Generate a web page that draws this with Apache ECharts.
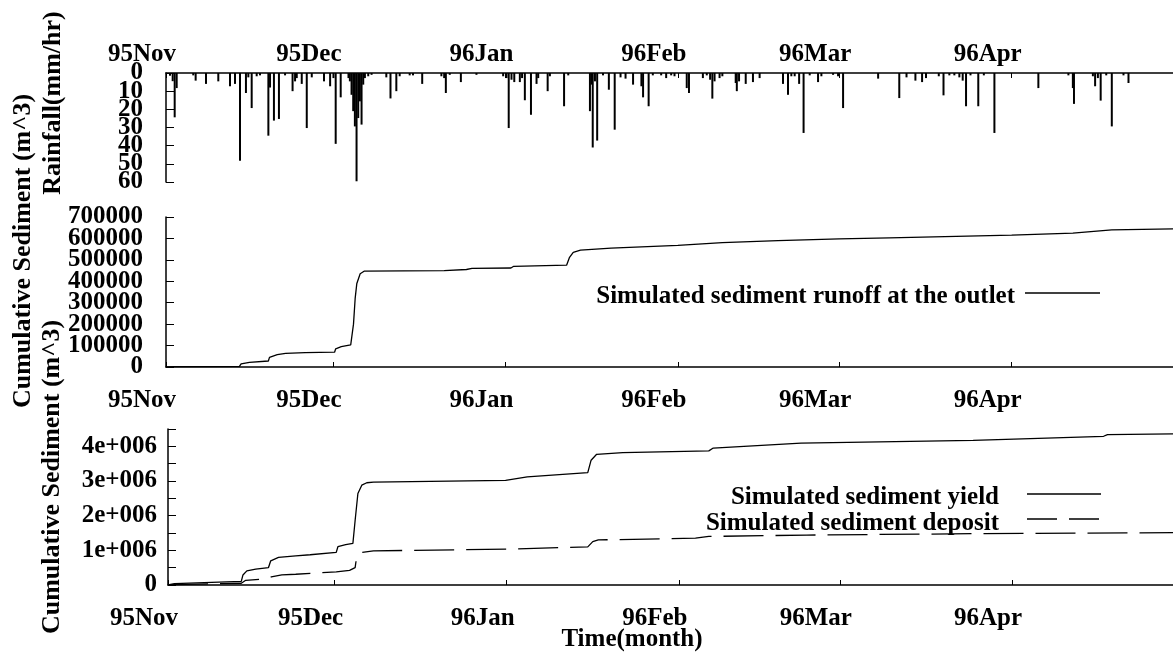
<!DOCTYPE html>
<html><head><meta charset="utf-8">
<script src="https://cdn.jsdelivr.net/npm/echarts@6/dist/echarts.min.js"></script>
<style>html,body{margin:0;padding:0;background:#fff}#c{width:1173px;height:652px}</style>
</head><body><div id="c"></div>
<script>
// x values are days since 1995-11-01
const monthDays = [0, 30, 61, 92, 121, 152];
const monthLabels = ['95Nov', '95Dec', '96Jan', '96Feb', '96Mar', '96Apr'];
const rainTicksA = [0, 20, 40, 60];
const rainTicksB = [10, 30, 50];
const outletTicksA = [0, 200000, 400000, 600000];
const outletTicksB = [100000, 300000, 500000, 700000];

const rainDays = [0.72,1.2,1.56,1.92,4.9,5.33,7.19,9.4,11.5,12.4,13.3,14.37,14.8,15.4,16.3,16.9,18.4,18.7,19.4,20.3,21.4,22.75,23.2,23.5,24.4,25.3,26.2,28.4,29.5,30.1,30.5,31.4,32.8,33.05,33.35,33.65,33.95,34.25,34.55,34.85,35.15,35.45,35.75,36.35,36.95,39.6,40.35,41.4,42.0,43.8,44.4,46.05,49.5,50.0,50.3,51.0,53.0,55.8,60.6,61.2,61.6,62.1,62.6,63.6,64.0,64.5,65.6,66.6,66.9,68.6,69.0,71.55,72.3,76.2,76.5,76.7,77.1,77.5,78.55,79.6,80.65,81.7,82.6,83.95,85.45,85.75,86.75,87.5,89.0,89.9,90.8,91.4,93.6,94.0,96.5,97.2,97.8,98.2,98.6,99.5,100.0,102.4,102.6,103.0,104.2,105.5,106.7,110.9,111.8,112.4,113.0,113.8,114.6,115.7,117.2,117.8,119.9,120.8,121.7,128.0,131.8,133.1,134.7,135.9,136.6,138.9,139.75,140.8,141.7,142.6,143.2,143.8,144.6,146.0,147.0,148.9,156.8,162.2,163.0,163.2,166.6,167.0,167.5,168.0,169.0,170.0,172.1,173.0];
const rainValues = [1.5,4.5,24.4,8.3,1.3,4.2,6,4.6,7.3,6,48.3,11,2.4,19.3,1.8,1.3,34.5,8,26.2,25.3,1.3,10,4.6,2.8,6,30.3,2.4,4.6,7.3,2.8,39,13.4,2.8,4.6,12,21,29.4,59.6,24.8,15.6,28.4,6.4,2.8,1.8,1,2.4,14,10,1.8,1.3,1.3,6,1.8,2.8,11,1,5,1,1.8,2.8,30.3,3.7,5,5,2.8,15,23,6,2.8,10,1.8,18.3,1.3,21,6.4,41,4.6,37.2,1.3,9.2,31.2,2.4,3.1,6.4,7.3,13.4,18.3,1.3,1.3,2.8,1.3,1.8,8.3,11,2.8,1.3,3.7,14.1,4.6,2.8,1.8,5.5,10,4.6,6,5,2.8,6,12,1.8,1.8,6,33,1.3,5,1.8,1,1.8,19.3,3.1,13.8,2.4,4.2,5,2.8,1.8,12.3,1.3,1.3,2.4,4.2,18.3,1.3,18.3,1.3,33,8.3,1.3,8.3,17,1.8,7.3,2.8,15.2,1.3,29.4,1.3,5.5];

const outletDays = [0,1.5,13.2,13.5,15,18.4,18.6,20,21.5,25,30.3,30.5,31.5,33.2,33.7,34.0,34.3,34.9,35.6,50,54,55,62,62.5,72,72.5,73.2,74.5,80,92,100,110,121,130,140,152,163,170,181];
const outletValues = [0,2000,3000,15000,22000,28000,45000,58000,64000,67000,69000,85000,95000,103000,200000,320000,390000,435000,447000,450000,455000,460000,462000,470000,475000,510000,535000,545000,555000,568000,580000,590000,598000,603000,608000,615000,625000,640000,645000];

const yieldDays = [0,1.15,13.2,13.5,14.2,15.8,18.1,18.5,19.9,23,25.6,30.3,30.6,32,33.3,33.7,34.2,34.9,35.8,37,60.8,64.7,75.6,76.2,77.2,81.9,97.4,98.2,114,145,168.5,169.2,181];
const yieldValues = [0,40000,107000,290000,407000,455000,504000,698000,795000,843000,872000,940000,1105000,1163000,1200000,1860000,2640000,2880000,2950000,2970000,3020000,3120000,3240000,3600000,3770000,3820000,3870000,3950000,4090000,4170000,4290000,4340000,4360000];

const depositDays = [0,1.2,13.2,14,18,18.6,20.5,23,30.3,32.7,33.7,34.0,34.9,37,61,75.6,76.5,77.5,95,97.4,115,145,181];
const depositValues = [0,10000,50000,136000,184000,233000,290000,310000,378000,420000,500000,840000,940000,985000,1035000,1100000,1250000,1300000,1350000,1400000,1440000,1480000,1510000];

const FF = '"Liberation Serif", "Times New Roman", serif';
const FS = 25;
const black = '#000';

function xAx(grid, pos, margin) {
  return {
    type: 'value', gridIndex: grid, position: pos, min: 0, max: 181,
    axisLine: { show: true, onZero: false, lineStyle: { color: black, width: 1.5 } },
    axisTick: { show: true, inside: true, length: 5, customValues: monthDays, lineStyle: { color: black, width: 1 } },
    axisLabel: {
      show: true, customValues: monthDays, margin: margin, showMinLabel: true,
      formatter: v => { const i = monthDays.indexOf(v); return i >= 0 ? monthLabels[i] : ''; },
      color: black, fontFamily: FF, fontWeight: 'bold', fontSize: FS, padding: [0, 48, 0, 0]
    },
    splitLine: { show: false }
  };
}
// axis line + ticks (labels optional)
function yMain(grid, opts, margin, fmt) {
  return Object.assign({
    type: 'value', gridIndex: grid, position: 'left',
    axisLine: { show: true, onZero: false, lineStyle: { color: black, width: 1.5 } },
    axisTick: { show: true, inside: true, length: 8, lineStyle: { color: black, width: 1 } },
    axisLabel: fmt ? { margin: margin, color: black, fontFamily: FF, fontWeight: 'bold', fontSize: FS, padding: [10, 0, 0, 0], formatter: fmt, showMinLabel: true, showMaxLabel: true } : { show: false },
    splitLine: { show: false }
  }, opts);
}
// label-only axis (tick labels overlap in the original, so they are split in two sets)
function yLab(grid, opts, values, margin) {
  return Object.assign({
    type: 'value', gridIndex: grid, position: 'left',
    axisLine: { show: false }, axisTick: { show: false }, splitLine: { show: false },
    axisLabel: { customValues: values, margin: margin, color: black, fontFamily: FF, fontWeight: 'bold', fontSize: FS, padding: [10, 0, 0, 0], showMinLabel: true, showMaxLabel: true, formatter: v => String(v) }
  }, opts);
}
const zip = (a, b) => a.map((d, i) => [d, b[i]]);

const rainRange = { inverse: true, min: 0, max: 60, interval: 10 };
const outletRange = { min: 0, max: 700000, interval: 100000 };

const chart = echarts.init(document.getElementById('c'), null, { renderer: 'canvas' });
chart.setOption({
  animation: false,
  backgroundColor: '#fff',
  grid: [
    { left: 166, right: 0, top: 73, height: 109 },
    { left: 166, right: 0, top: 217, height: 150 },
    { left: 168, right: -2, top: 429, height: 156 }
  ],
  xAxis: [xAx(0, 'top', 6), xAx(1, 'bottom', 21), xAx(2, 'bottom', 21)],
  yAxis: [
    yMain(0, rainRange),
    yLab(0, rainRange, rainTicksA, 23),
    yLab(0, rainRange, rainTicksB, 23),
    yMain(1, outletRange),
    yLab(1, outletRange, outletTicksA, 23),
    yLab(1, outletRange, outletTicksB, 23),
    yMain(2, { min: 0, max: 4500000, interval: 500000 }, 11, v => v === 0 ? '0' : (v % 1000000 === 0 ? (v / 1000000) + 'e+006' : ''))
  ],
  series: [
    { type: 'bar', xAxisIndex: 0, yAxisIndex: 0, data: zip(rainDays, rainValues), barWidth: 2, itemStyle: { color: black } },
    { type: 'line', xAxisIndex: 1, yAxisIndex: 3, data: zip(outletDays, outletValues), showSymbol: false, symbol: 'none', lineStyle: { color: black, width: 1.3 } },
    { type: 'line', xAxisIndex: 2, yAxisIndex: 6, data: zip(yieldDays, yieldValues), showSymbol: false, symbol: 'none', lineStyle: { color: black, width: 1.3 } },
    { type: 'line', xAxisIndex: 2, yAxisIndex: 6, data: zip(depositDays, depositValues), showSymbol: false, symbol: 'none', lineStyle: { color: black, width: 1.3, type: [40, 12] } }
  ],
  graphic: [
    { type: 'text', x: 53, y: 103, rotation: Math.PI / 2, style: { text: 'Rainfall(mm/hr)', font: 'bold 26px ' + FF, fill: black, align: 'center', verticalAlign: 'middle' } },
    { type: 'text', x: 23, y: 251, rotation: Math.PI / 2, style: { text: 'Cumulative Sediment (m^3)', font: 'bold 26px ' + FF, fill: black, align: 'center', verticalAlign: 'middle' } },
    { type: 'text', x: 52, y: 477, rotation: Math.PI / 2, style: { text: 'Cumulative Sediment (m^3)', font: 'bold 26px ' + FF, fill: black, align: 'center', verticalAlign: 'middle' } },
    { type: 'text', x: 632, y: 640, style: { text: 'Time(month)', font: 'bold 25px ' + FF, fill: black, align: 'center', verticalAlign: 'middle' } },
    { type: 'text', x: 1015, y: 297, style: { text: 'Simulated sediment runoff at the outlet', font: 'bold 25px ' + FF, fill: black, align: 'right', verticalAlign: 'middle' } },
    { type: 'line', shape: { x1: 1025, y1: 293, x2: 1100, y2: 293 }, style: { stroke: black, lineWidth: 1.3 } },
    { type: 'text', x: 999, y: 498, style: { text: 'Simulated sediment yield', font: 'bold 25px ' + FF, fill: black, align: 'right', verticalAlign: 'middle' } },
    { type: 'line', shape: { x1: 1027, y1: 494, x2: 1101, y2: 494 }, style: { stroke: black, lineWidth: 1.3 } },
    { type: 'text', x: 999, y: 524, style: { text: 'Simulated sediment deposit', font: 'bold 25px ' + FF, fill: black, align: 'right', verticalAlign: 'middle' } },
    { type: 'line', shape: { x1: 1027, y1: 519, x2: 1101, y2: 519 }, style: { stroke: black, lineWidth: 1.3, lineDash: [30, 12] } }
  ]
});
</script></body></html>
